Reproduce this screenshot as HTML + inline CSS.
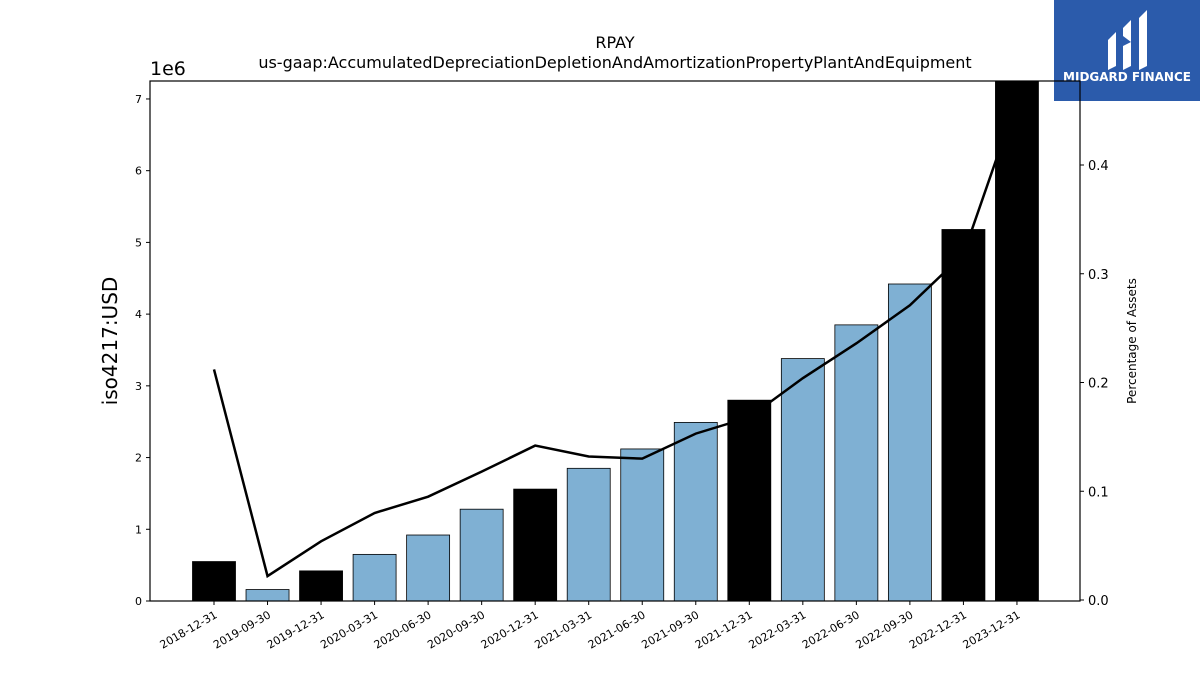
<!DOCTYPE html>
<html><head><meta charset="utf-8"><style>
body{margin:0;background:#fff;font-family:"Liberation Sans","DejaVu Sans",sans-serif}
svg text{font-family:"DejaVu Sans","Liberation Sans",sans-serif}
</style></head><body>
<svg id="c" width="1200" height="675">
<rect x="1054" y="0" width="146" height="101" fill="#2b5bab"/>
<g fill="#fff">
<path d="M1108 40 L1116 32 L1116 66 L1108 70 Z"/>
<path d="M1123 28 L1131 20 L1131 42 L1123 36 Z"/>
<path d="M1123 46 L1131 42 L1131 66 L1123 70 Z"/>
<path d="M1139 18 L1147 10 L1147 66 L1139 70 Z"/>
</g>
<text x="1127" y="81" fill="#fff" font-size="12" font-weight="bold" text-anchor="middle">MIDGARD FINANCE</text>
<text x="615" y="48" font-size="16" text-anchor="middle">RPAY</text>
<text x="615" y="68" font-size="16" text-anchor="middle">us-gaap:AccumulatedDepreciationDepletionAndAmortizationPropertyPlantAndEquipment</text>
<text x="150" y="75" font-size="19">1e6</text>
<text transform="translate(117,341) rotate(-90)" font-size="20" text-anchor="middle">iso4217:USD</text>
<text transform="translate(1136,341) rotate(-90)" font-size="12" text-anchor="middle">Percentage of Assets</text>
<g id="plot"></g>
</svg>
<script>
const categories=["2018-12-31","2019-09-30","2019-12-31","2020-03-31","2020-06-30","2020-09-30","2020-12-31","2021-03-31","2021-06-30","2021-09-30","2021-12-31","2022-03-31","2022-06-30","2022-09-30","2022-12-31","2023-12-31"];
const values=[0.55,0.16,0.42,0.65,0.92,1.28,1.56,1.85,2.12,2.49,2.80,3.38,3.85,4.42,5.18,7.3];
const pct=[0.212,0.022,0.054,0.080,0.095,0.118,0.142,0.132,0.130,0.153,0.168,0.204,0.236,0.271,0.318,0.46];
const leftTicks=[0,1,2,3,4,5,6,7];
const rightTicks=[0.0,0.1,0.2,0.3,0.4];
const L=150,R=1080,T=81,B=601;
const x=i=>214+i*53.53;
const y=v=>601-v*71.72;
const y2=v=>600-v*1087.5;
const g=document.getElementById('plot');
const NS="http://www.w3.org/2000/svg";
function mk(t,a){const e=document.createElementNS(NS,t);for(const k in a)e.setAttribute(k,a[k]);g.appendChild(e);return e;}
const cp=mk('clipPath',{id:'cp'});const cr=document.createElementNS(NS,'rect');cr.setAttribute('x',L);cr.setAttribute('y',T);cr.setAttribute('width',R-L);cr.setAttribute('height',B-T);cp.appendChild(cr);
categories.forEach((c,i)=>{
 const top=Math.max(T,y(values[i]));
 const r=mk('rect',{x:x(i)-21.5,y:top,width:43,height:B-top,fill:c.endsWith('12-31')?'#000':'#7fb0d3',stroke:'#000','stroke-width':0.8});
 
 
 const tk=mk('line',{x1:x(i),x2:x(i),y1:B,y2:B+4,stroke:'#000'});
 
 
 const t=mk('text',{transform:`translate(${x(i)+4},${B+16}) rotate(-30)`,'font-size':11,'text-anchor':'end'});
 t.textContent=c;
 
 
});
const ln=mk('polyline',{points:pct.map((p,i)=>x(i)+','+y2(p)).join(' '),fill:'none',stroke:'#000','stroke-width':2.5,'clip-path':'url(#cp)'});


const fr=mk('rect',{x:L,y:T,width:R-L,height:B-T,fill:'none',stroke:'#000','stroke-width':1.2});


leftTicks.forEach(v=>{
 const l=mk('line',{x1:L-4,x2:L,y1:y(v),y2:y(v),stroke:'#000'});
 
 
 const t=mk('text',{x:L-8,y:y(v)+4,'font-size':11,'text-anchor':'end'});
 t.textContent=v;
 
 
});
rightTicks.forEach(v=>{
 const l=mk('line',{x1:R,x2:R+4,y1:y2(v),y2:y2(v),stroke:'#000'});
 
 
 const t=mk('text',{x:R+8,y:y2(v)+5,'font-size':13});
 t.textContent=v.toFixed(1);
 
 
});
</script>
</body></html>
